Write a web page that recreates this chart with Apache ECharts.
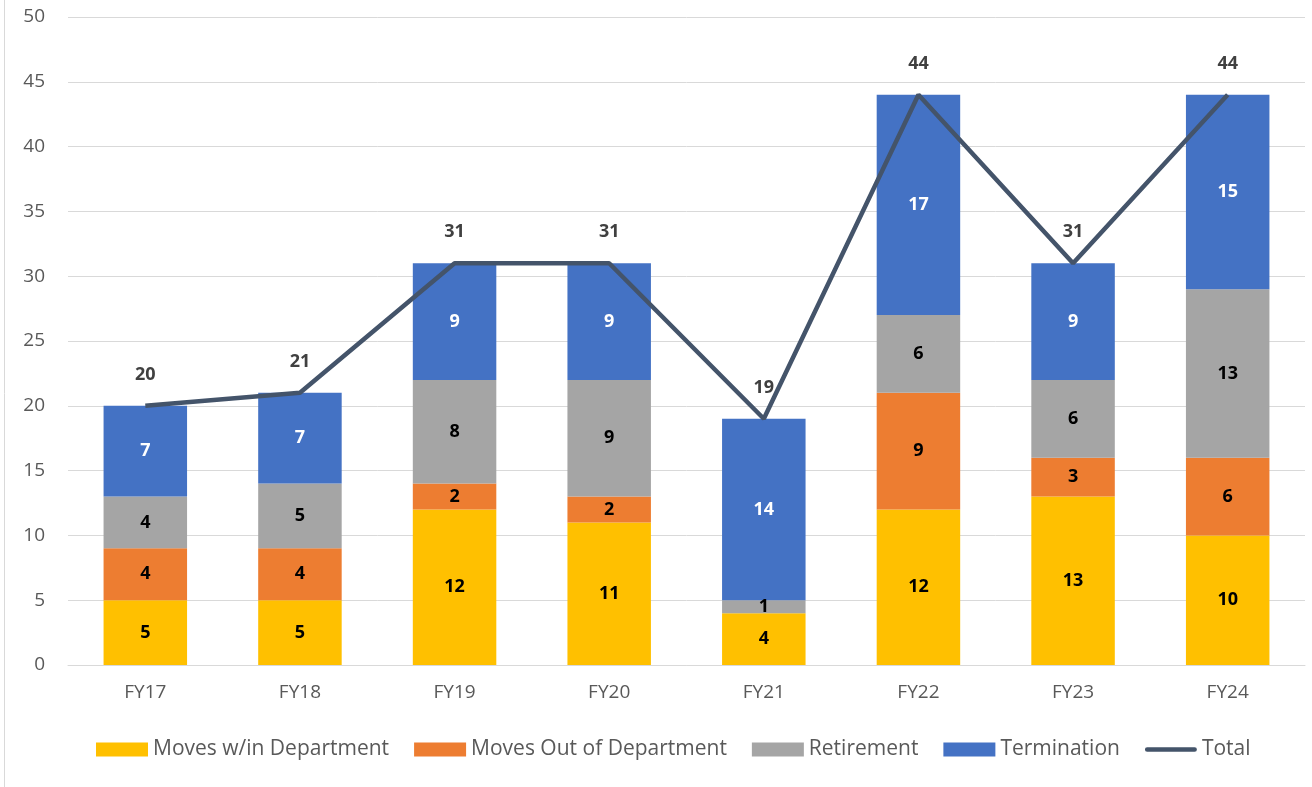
<!DOCTYPE html>
<html>
<head>
<meta charset="utf-8">
<script src="https://cdn.jsdelivr.net/npm/echarts@6/dist/echarts.min.js"></script>
<style>html,body{margin:0;padding:0;background:#fff}#c{width:1312px;height:787px}</style>
</head>
<body>
<div id="c"></div>
<script>
const categories = ['FY17','FY18','FY19','FY20','FY21','FY22','FY23','FY24'];
const movesWithin = [5,5,12,11,4,12,13,10];
const movesOut = [4,4,2,2,0,9,3,6];
const retirement = [4,5,8,9,1,6,6,13];
const termination = [7,7,9,9,14,17,9,15];
const total = [20,21,31,31,19,44,31,44];
const yTicks = {min:0, max:50, interval:5};

const FONT = 'Open Sans';
const chart = echarts.init(document.getElementById('c'));
function barSeries(name, data, color, labelColor){
  return {
    name, type:'bar', stack:'s', data, barWidth:'54%',
    itemStyle:{color},
    label:{show:true, position:'inside', color:labelColor, fontWeight:'bold', fontSize:18, fontFamily:FONT,
      formatter:p=>p.value===0?'':p.value}
  };
}
chart.setOption({
  animation:false,
  textStyle:{fontFamily:FONT},
  grid:{left:68, right:7, top:17, bottom:122},
  xAxis:{type:'category', data:categories,
    axisLine:{lineStyle:{color:'#D9D9D9'}}, axisTick:{show:false},
    axisLabel:{color:'#595959', fontSize:19, margin:18, fontFamily:FONT}},
  yAxis:{type:'value', min:yTicks.min, max:yTicks.max, interval:yTicks.interval,
    axisLine:{show:false}, axisTick:{show:false},
    splitLine:{lineStyle:{color:'#D9D9D9', width:1}},
    axisLabel:{color:'#595959', fontSize:19, margin:23, fontFamily:FONT}},
  legend:{left:91, top:734, itemWidth:52, itemHeight:14, itemGap:25,
    textStyle:{color:'#595959', fontSize:21, fontFamily:FONT},
    data:[
      {name:'Moves w/in Department', icon:'rect'},
      {name:'Moves Out of Department', icon:'rect'},
      {name:'Retirement', icon:'rect'},
      {name:'Termination', icon:'rect'},
      {name:'Total', icon:'path://M2.5,0 L53.5,0 A2.5,2.5 0 0 1 53.5,5 L2.5,5 A2.5,2.5 0 0 1 2.5,0 Z'}
    ]},
  graphic:[{type:'line', shape:{x1:4.5,y1:0,x2:4.5,y2:787}, style:{stroke:'#D9D9D9', lineWidth:1}}],
  series:[
    barSeries('Moves w/in Department', movesWithin, '#FFC000', '#000'),
    barSeries('Moves Out of Department', movesOut, '#ED7D31', '#000'),
    barSeries('Retirement', retirement, '#A5A5A5', '#000'),
    barSeries('Termination', termination, '#4472C4', '#fff'),
    {name:'Total', type:'line', data:total, symbol:'circle', symbolSize:0, showSymbol:true, z:5,
      lineStyle:{color:'#44546A', width:4.5}, itemStyle:{color:'#44546A'},
      label:{show:true, position:'top', distance:22, color:'#404040', fontWeight:'bold', fontSize:18, fontFamily:FONT}}
  ]
});
</script>
</body>
</html>
